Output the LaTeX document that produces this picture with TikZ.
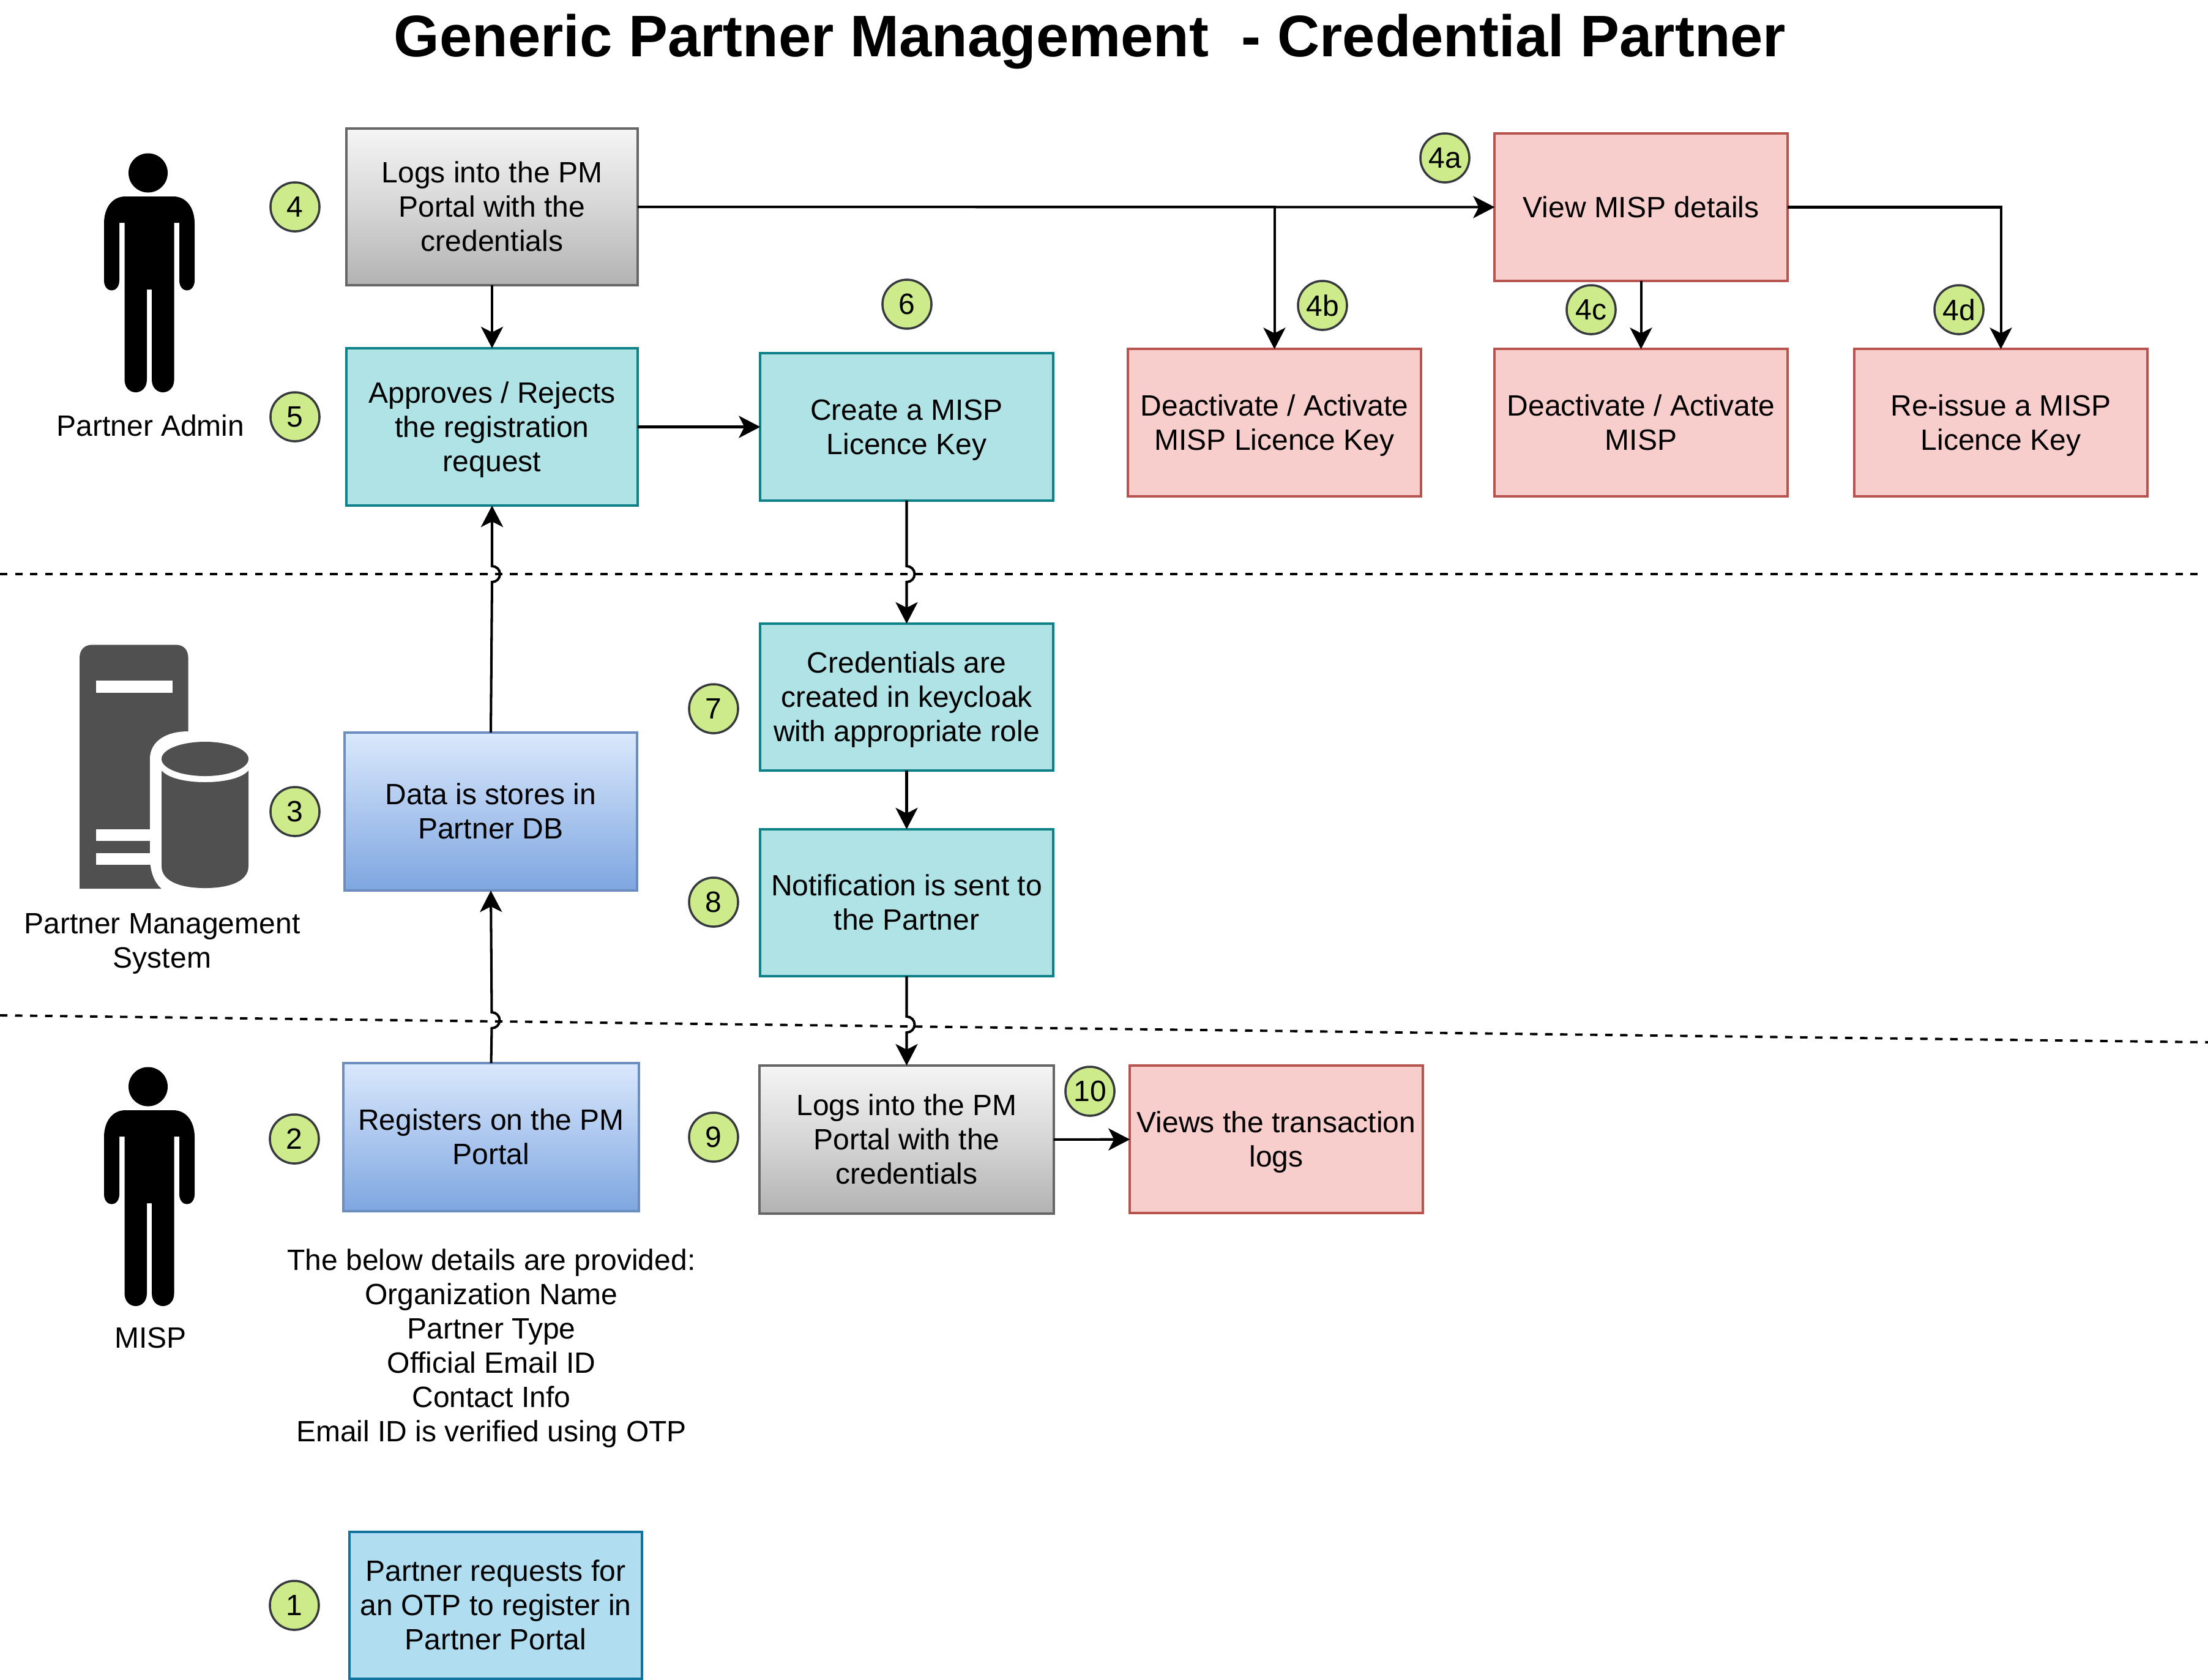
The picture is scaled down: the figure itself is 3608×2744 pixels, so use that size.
\documentclass[tikz,border=0pt]{standalone}
\usepackage{fontspec}
\setmainfont{Liberation Sans}
\usepackage{tikz}
\usetikzlibrary{arrows.meta}
\definecolor{grayedge}{HTML}{666666}
\definecolor{blueedge}{HTML}{6C8EBF}
\definecolor{tealedge}{HTML}{0E8088}
\definecolor{tealfill}{HTML}{B0E3E6}
\definecolor{rededge}{HTML}{B85450}
\definecolor{redfill}{HTML}{F8CECC}
\definecolor{skyedge}{HTML}{10739E}
\definecolor{skyfill}{HTML}{B1DDF0}
\definecolor{markfill}{HTML}{CDEB8B}
\definecolor{markedge}{HTML}{36393D}
\definecolor{iconfill}{HTML}{505050}
\newcommand{\boxlines}[1]{\rule{0pt}{12.7pt}#1\rule[-3.24pt]{0pt}{1pt}}
\tikzset{
basebox/.style={draw, line width=1.15pt, align=center, inner sep=0pt, outer sep=0pt, minimum width=4.78cm, minimum height=2.4cm, font=\fontsize{13.65}{15.94}\selectfont},
graybox/.style={basebox, draw=grayedge, top color=gray!8, bottom color=black!30, middle color=black!16, minimum width=4.76cm, minimum height=2.56cm},
bluebox/.style={basebox, draw=blueedge, top color={rgb,255:red,218;green,232;blue,252}, bottom color={rgb,255:red,126;green,166;blue,224}},
tealbox/.style={basebox, draw=tealedge, fill=tealfill},
redbox/.style={basebox, draw=rededge, fill=redfill},
skybox/.style={basebox, draw=skyedge, fill=skyfill},
stepmark/.style={circle, draw=markedge, fill=markfill, line width=1pt, minimum size=0.8cm, inner sep=0pt, font=\fontsize{13.65}{15.94}\selectfont},
plainlabel/.style={align=center, inner sep=0pt, font=\fontsize{13.65}{15.94}\selectfont},
flowline/.style={line width=1.15pt, -{Stealth[length=0.35cm,width=0.36cm,inset=0.09cm]}},
laneline/.style={line width=1.1pt, dash pattern=on 0.122cm off 0.123cm},
}
\begin{document}
\begin{tikzpicture}[x=0.01cm,y=-0.01cm]
\useasboundingbox (0,0) rectangle (3608,2744);
\node[inner sep=0pt, font=\fontsize{27.26}{32}\selectfont\bfseries] (title) at (1781,68) {Generic Partner Management\ \ - Credential Partner};

% lanes
\coordinate (lanealeft) at (0,938);
\coordinate (lanearight) at (3600,938);
\coordinate (lanebleft) at (0,1659);
\coordinate (lanebright) at (3608,1703);
\draw[laneline] (lanealeft) -- (lanearight);
\draw[laneline] (lanebleft) -- (lanebright);

% people
\foreach \py/\nm in {0/admin,1493/misp}
{
\begin{scope}[shift={(0,\py)}]
\fill (242,282.5) ellipse (0.32cm and 0.32cm);
\fill (205,321) -- (283,321) .. controls (305,321) and (318,340) .. (318,365) -- (318,458)
.. controls (318,480) and (293,480) .. (293,458) -- (293,364) -- (284.6,364) -- (284.6,620)
.. controls (284.6,648) and (248,648) .. (248,620) -- (248,473) -- (240,473) -- (240,620)
.. controls (240,648) and (203.5,648) .. (203.5,620) -- (203.5,364) -- (195,364) -- (195,458)
.. controls (195,480) and (170,480) .. (170,458) -- (170,365) .. controls (170,340) and (183,321) .. (205,321) -- cycle;
\end{scope}
}
\node[plainlabel] (adminlabel) at (246,695) {Partner Admin};
\node[plainlabel] (misplabel) at (246,2186) {MISP};

% server and database
\fill[iconfill] (130,1452) -- (130,1075) .. controls (130,1062) and (138,1053.6) .. (150,1053.6) -- (288,1053.6) .. controls (300,1053.6) and (307.6,1062) .. (307.6,1075) -- (307.6,1452) -- cycle;
\fill[white] (245,1240) .. controls (245,1212) and (270,1195) .. (307.6,1195) -- (425,1195) -- (425,1470) -- (275,1470) -- (264,1452) .. controls (250,1440) and (245,1420) .. (245,1400) -- cycle;
\fill[white] (157,1112) rectangle (281.6,1132);
\fill[white] (157,1355) rectangle (246,1374);
\fill[white] (157,1394) rectangle (246,1413);
\fill[iconfill] (335,1240) ellipse (0.71cm and 0.28cm);
\fill[iconfill] (264,1259) .. controls (275,1272) and (305,1278) .. (335,1278) .. controls (365,1278) and (395,1272) .. (406,1259) -- (406,1415) .. controls (406,1440) and (375,1451) .. (335,1451) .. controls (295,1451) and (264,1440) .. (264,1415) -- cycle;
\node[plainlabel] (pmslabel) at (265,1542) {Partner Management\\System};

% boxes
\node[graybox] (logsadmin) at (804,338) {\boxlines{Logs into the PM\\Portal with the\\credentials}};
\node[tealbox, minimum width=4.76cm, minimum height=2.57cm] (approve) at (804,697.5) {\boxlines{Approves / Rejects\\the registration\\request}};
\node[tealbox] (create) at (1481.5,697.5) {\boxlines{Create a MISP\\Licence Key}};
\node[redbox] (viewmisp) at (2681.5,338.5) {\boxlines{View MISP details}};
\node[redbox] (deactkey) at (2082.5,690.5) {\boxlines{Deactivate / Activate\\MISP Licence Key}};
\node[redbox] (deactmisp) at (2681.5,690.5) {\boxlines{Deactivate / Activate\\MISP}};
\node[redbox] (reissue) at (3269.5,690.5) {\boxlines{Re-issue a MISP\\Licence Key}};
\node[tealbox] (cred) at (1481.5,1139) {\boxlines{Credentials are\\created in keycloak\\with appropriate role}};
\node[tealbox] (notify) at (1481.5,1475) {\boxlines{Notification is sent to\\the Partner}};
\node[bluebox, minimum height=2.58cm] (datadb) at (802,1326) {\boxlines{Data is stores in\\Partner DB}};
\node[bluebox, minimum width=4.82cm, minimum height=2.42cm] (register) at (802.5,1858) {\boxlines{Registers on the PM\\Portal}};
\node[graybox, minimum width=4.8cm, minimum height=2.42cm] (logsmisp) at (1481.5,1862) {\boxlines{Logs into the PM\\Portal with the\\credentials}};
\node[redbox] (viewlogs) at (2085.5,1861.5) {\boxlines{Views the transaction\\logs}};
\node[skybox] (otp) at (810,2623) {\boxlines{Partner requests for\\an OTP to register in\\Partner Portal}};
\node[plainlabel] (details) at (803,2203) {The below details are provided:\\Organization Name\\Partner Type\\Official Email ID\\Contact Info\\Email ID is verified using OTP};

% numbers
\foreach \x/\y/\lab in {481/2623/1,481/1861/2,482/1326/3,482/338/4,482/681/5,1482/497/6,1166/1158/7,1166/1474/8,1166/1858/9,1781/1783/10,2361/258/4a,2161/499/4b,2600/506/4c,3201/506/4d}
{
\node[stepmark] (mark\lab) at (\x,\y) {\lab};
}

% connectors
\draw[flowline] (logsadmin) -- (approve);
\draw[flowline] (approve) -- (create);
\draw[flowline] (logsadmin) -- (viewmisp);
\draw[flowline] (logsadmin.east) -| (deactkey.north);
\draw[flowline] (viewmisp) -- (deactmisp);
\draw[flowline] (viewmisp.east) -| (reissue.north);
\draw[flowline] (cred) -- (notify);
\draw[flowline] (logsmisp) -- (viewlogs);

\coordinate (jumpdata) at (804,938);
\coordinate (jumpcreate) at (1481.5,938);
\coordinate (jumpreg) at (803.5,1667);
\coordinate (jumpnotify) at (1481.5,1674);
\draw[flowline] (datadb.north) -- ([yshift=-0.13cm]jumpdata) arc[start angle=-90,end angle=90,radius=0.13cm] -- (approve.south);
\draw[flowline] (create.south) -- ([yshift=0.13cm]jumpcreate) arc[start angle=90,end angle=-90,radius=0.13cm] -- (cred.north);
\draw[flowline] (register.north) -- ([yshift=-0.13cm]jumpreg) arc[start angle=-90,end angle=90,radius=0.13cm] -- (datadb.south);
\draw[flowline] (notify.south) -- ([yshift=0.13cm]jumpnotify) arc[start angle=90,end angle=-90,radius=0.13cm] -- (logsmisp.north);
\end{tikzpicture}
\end{document}
